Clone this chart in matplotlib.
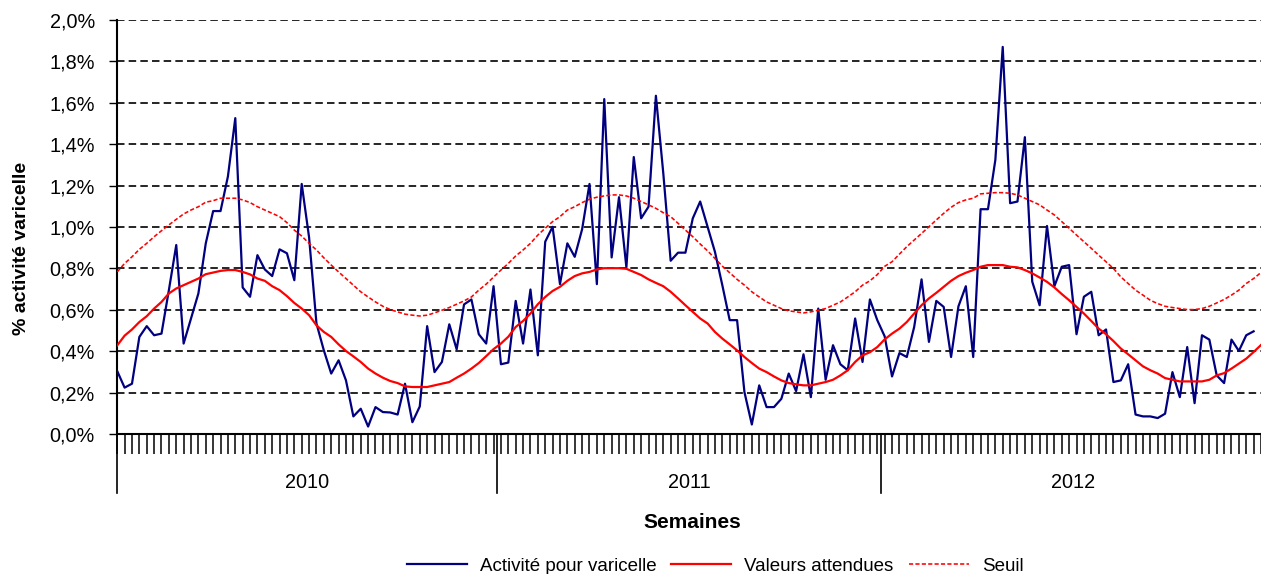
import matplotlib
matplotlib.use("Agg")
import matplotlib.pyplot as plt
import matplotlib.transforms as mtransforms
from matplotlib.lines import Line2D
import numpy as np

plt.rcParams['font.family'] = ['Liberation Sans', 'DejaVu Sans']

# weekly values in % (2010 - 2012)
activite = [0.304, 0.224, 0.243, 0.469, 0.521, 0.477, 0.485, 0.695, 0.913, 0.437,
            0.558, 0.679, 0.921, 1.077, 1.077, 1.244, 1.526, 0.708, 0.663, 0.864,
            0.795, 0.763, 0.892, 0.873, 0.743, 1.208, 0.950, 0.534, 0.404, 0.292,
            0.356, 0.259, 0.085, 0.122, 0.036, 0.130, 0.106, 0.104, 0.094, 0.243,
            0.057, 0.133, 0.521, 0.299, 0.348, 0.530, 0.409, 0.626, 0.650, 0.482,
            0.437, 0.714, 0.337, 0.345, 0.643, 0.437, 0.698, 0.380, 0.929, 1.001,
            0.724, 0.921, 0.856, 0.989, 1.208, 0.724, 1.618, 0.853, 1.144, 0.805,
            1.338, 1.042, 1.098, 1.634, 1.260, 0.837, 0.876, 0.876, 1.042, 1.123,
            1.001, 0.880, 0.719, 0.550, 0.550, 0.202, 0.046, 0.235, 0.130, 0.130,
            0.170, 0.292, 0.207, 0.385, 0.178, 0.606, 0.262, 0.429, 0.337, 0.308,
            0.558, 0.348, 0.650, 0.550, 0.472, 0.278, 0.391, 0.372, 0.517, 0.747,
            0.445, 0.643, 0.614, 0.372, 0.617, 0.714, 0.372, 1.086, 1.086, 1.324,
            1.870, 1.115, 1.123, 1.434, 0.736, 0.622, 1.005, 0.714, 0.808, 0.816,
            0.482, 0.663, 0.687, 0.477, 0.505, 0.251, 0.259, 0.337, 0.094, 0.085,
            0.085, 0.077, 0.098, 0.299, 0.178, 0.420, 0.149, 0.477, 0.456, 0.283,
            0.246, 0.456, 0.401, 0.477, 0.496]

attendues = [0.428, 0.475, 0.505, 0.541, 0.569, 0.606, 0.638, 0.679, 0.703, 0.719,
             0.735, 0.751, 0.772, 0.780, 0.788, 0.792, 0.792, 0.783, 0.771, 0.751,
             0.740, 0.714, 0.695, 0.666, 0.633, 0.606, 0.574, 0.525, 0.493, 0.469,
             0.433, 0.401, 0.375, 0.348, 0.316, 0.292, 0.272, 0.256, 0.246, 0.230,
             0.227, 0.227, 0.227, 0.235, 0.243, 0.251, 0.272, 0.292, 0.316, 0.343,
             0.376, 0.410, 0.437, 0.470, 0.517, 0.546, 0.582, 0.627, 0.662, 0.691,
             0.711, 0.740, 0.763, 0.776, 0.783, 0.795, 0.801, 0.801, 0.801, 0.798,
             0.783, 0.768, 0.747, 0.730, 0.714, 0.687, 0.655, 0.622, 0.590, 0.558,
             0.534, 0.493, 0.461, 0.433, 0.404, 0.372, 0.343, 0.316, 0.299, 0.278,
             0.259, 0.246, 0.240, 0.235, 0.235, 0.243, 0.251, 0.262, 0.283, 0.308,
             0.348, 0.380, 0.395, 0.420, 0.457, 0.485, 0.509, 0.541, 0.582, 0.622,
             0.655, 0.682, 0.711, 0.740, 0.763, 0.779, 0.792, 0.808, 0.816, 0.816,
             0.816, 0.808, 0.805, 0.792, 0.776, 0.756, 0.735, 0.708, 0.676, 0.646,
             0.614, 0.582, 0.546, 0.509, 0.482, 0.449, 0.413, 0.385, 0.356, 0.327,
             0.308, 0.292, 0.270, 0.262, 0.254, 0.254, 0.254, 0.254, 0.262, 0.283,
             0.294, 0.316, 0.340, 0.364, 0.396, 0.430]

seuil = [0.783, 0.824, 0.856, 0.892, 0.921, 0.953, 0.982, 1.010, 1.037, 1.063,
         1.082, 1.098, 1.120, 1.127, 1.139, 1.139, 1.139, 1.131, 1.118, 1.098,
         1.082, 1.066, 1.050, 1.021, 0.985, 0.956, 0.921, 0.889, 0.851, 0.816,
         0.783, 0.751, 0.719, 0.687, 0.662, 0.638, 0.617, 0.601, 0.590, 0.579,
         0.574, 0.570, 0.574, 0.585, 0.598, 0.611, 0.627, 0.643, 0.662, 0.695,
         0.724, 0.758, 0.792, 0.824, 0.860, 0.889, 0.921, 0.961, 0.994, 1.026,
         1.050, 1.082, 1.098, 1.118, 1.134, 1.144, 1.150, 1.155, 1.155, 1.150,
         1.139, 1.123, 1.107, 1.090, 1.069, 1.050, 1.018, 0.985, 0.953, 0.918,
         0.885, 0.848, 0.811, 0.779, 0.747, 0.719, 0.687, 0.662, 0.638, 0.622,
         0.606, 0.595, 0.590, 0.585, 0.590, 0.598, 0.606, 0.622, 0.638, 0.662,
         0.687, 0.719, 0.740, 0.770, 0.810, 0.832, 0.869, 0.905, 0.937, 0.969,
         1.001, 1.034, 1.066, 1.095, 1.118, 1.131, 1.139, 1.160, 1.163, 1.166,
         1.166, 1.163, 1.155, 1.139, 1.123, 1.107, 1.082, 1.058, 1.026, 0.994,
         0.961, 0.929, 0.897, 0.864, 0.832, 0.800, 0.759, 0.727, 0.695, 0.671,
         0.646, 0.630, 0.617, 0.611, 0.606, 0.601, 0.601, 0.606, 0.617, 0.633,
         0.650, 0.671, 0.695, 0.727, 0.751, 0.780]

years = ["2010", "2011", "2012"]
weeks_per_year = 52

W, H = 1261, 574
fig = plt.figure(figsize=(W / 100, H / 100), dpi=100)
ax = fig.add_axes([117 / W, (H - 434) / H, 1 - 117 / W, 414 / H])

x_act = np.arange(len(activite))
x_ref = np.arange(len(attendues))

ax.plot(x_act, activite, color="#000080", lw=1.6, zorder=3)
ax.plot(x_ref, attendues, color="#ff0000", lw=1.6, zorder=3)
ax.plot(x_ref, seuil, color="#ff0000", lw=1.15, ls=(0, (2.6, 1.4)), zorder=3)

ax.set_ylim(0, 2.0)
ax.set_xlim(-0.03, 154.6)
yt = np.arange(0, 2.01, 0.2)
ax.set_yticks(yt)
ax.set_yticklabels([f"{v:.1f}%".replace(".", ",") for v in yt], fontsize=14.3)
for v in yt[1:]:
    ax.axhline(v, color="black", lw=1.2, ls=(0, (4.5, 2.5)), zorder=1)

ax.set_xticks([])
ax.set_xticks(np.arange(0, 156), minor=True)
ax.tick_params(axis="x", which="minor", length=14.5, width=1.1, color="black")
ax.tick_params(axis="y", length=6, width=1, pad=10)

for s in ["top", "right"]:
    ax.spines[s].set_visible(False)
for s in ["left", "bottom"]:
    ax.spines[s].set_linewidth(1.5)
    ax.spines[s].set_color("black")

# year groups under the axis
trans = mtransforms.blended_transform_factory(ax.transData, fig.transFigure)
bounds = [0] + [weeks_per_year * (k + 1) - 0.5 for k in range(len(years))]
for k, yr in enumerate(years):
    ax.text((bounds[k] + bounds[k + 1]) / 2, (H - 483) / H, yr, transform=trans,
            ha="center", va="center", fontsize=14.3)
for b in bounds[:-1]:
    ax.add_line(Line2D([b, b], [(H - 434) / H, (H - 493) / H], transform=trans,
                       color="black", lw=1.2, clip_on=False))

fig.text(692 / W, (H - 523) / H, "Semaines", ha="center", va="center",
         fontsize=15, fontweight="bold")
fig.text(22 / W, (H - 248) / H, "% activité varicelle", rotation=90,
         ha="center", va="center", fontsize=14, fontweight="bold")

handles = [Line2D([], [], color="#000080", lw=1.6),
           Line2D([], [], color="#ff0000", lw=1.6),
           Line2D([], [], color="#ff0000", lw=1.15, ls=(0, (2.6, 1.4)))]
labels = ["Activité pour varicelle", "Valeurs attendues", "Seuil"]
fig.legend(handles, labels, loc="center", bbox_to_anchor=(715 / W, (H - 566) / H),
           ncol=3, frameon=False, fontsize=13.5, handlelength=3.2,
           handletextpad=0.7, columnspacing=0.8, borderpad=0, borderaxespad=0)

fig.savefig("out.png", dpi=100)
